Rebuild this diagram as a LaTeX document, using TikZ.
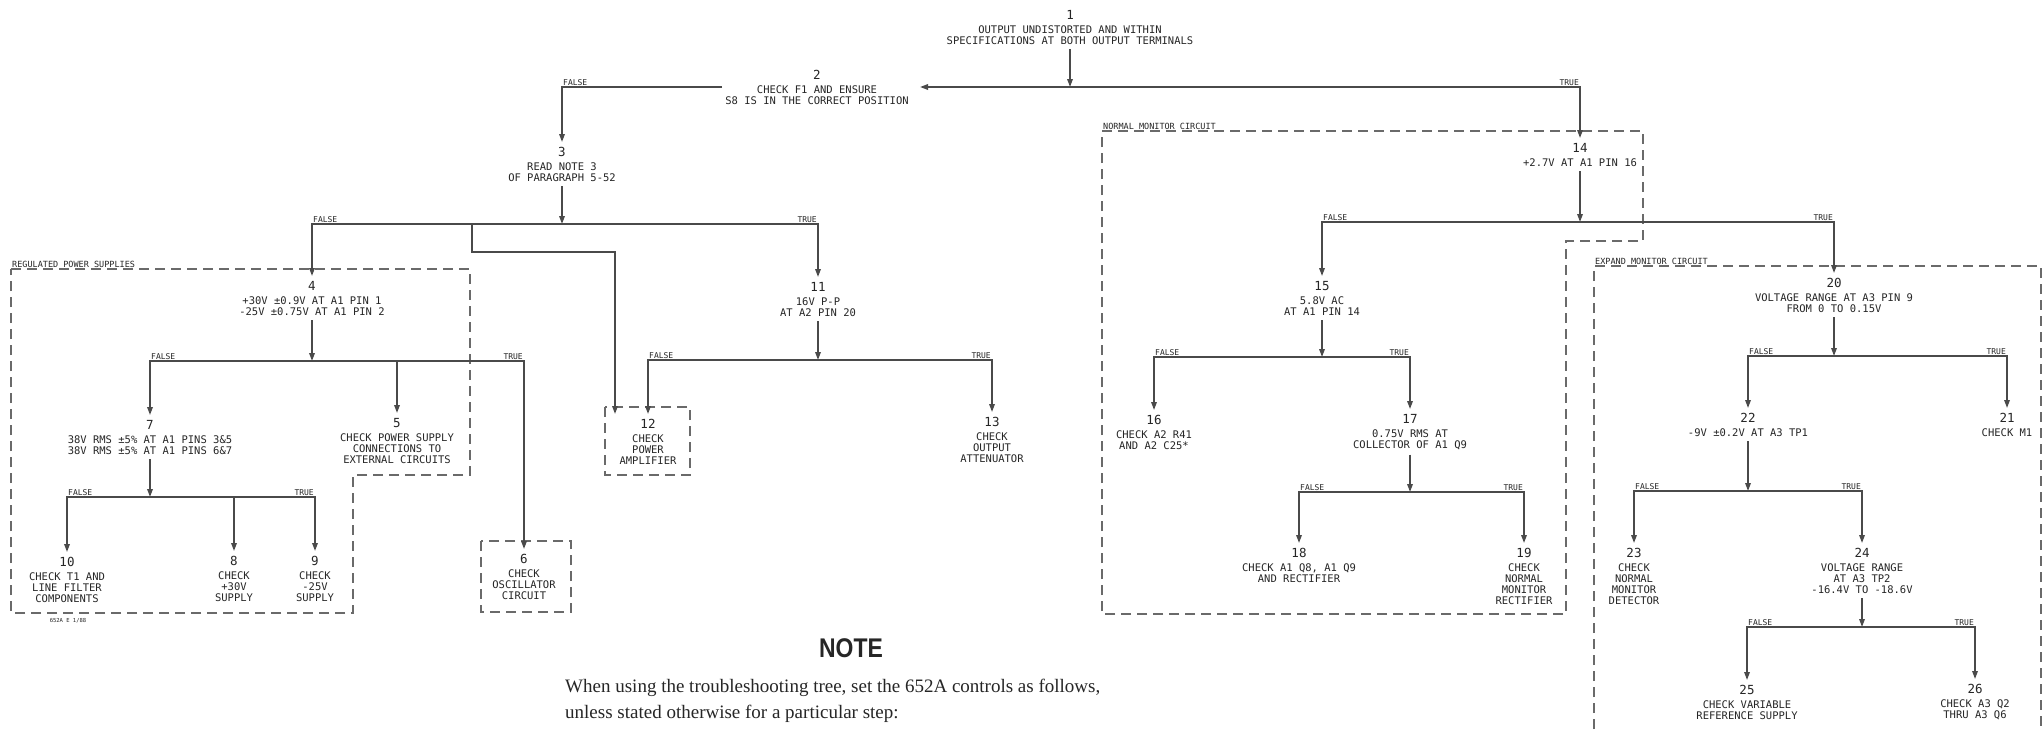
\documentclass[tikz,border=0pt]{standalone}
\usepackage{fontspec}
\setmainfont{Liberation Serif}
\setsansfont{Liberation Sans}
\setmonofont{DejaVu Sans Mono}
\newfontfamily\notefont[FakeStretch=0.85]{Liberation Sans}
\usetikzlibrary{arrows.meta,positioning}
\definecolor{ink}{HTML}{262626}
\definecolor{rule}{HTML}{4A4A4A}
\definecolor{boxline}{HTML}{6A6A6A}
\tikzset{
  flow/.style={draw=rule, line width=1.6pt, -{Triangle[length=8pt,width=5.5pt]}},
  stepbox/.style={anchor=north, align=center, inner sep=1pt, outer sep=4pt, text=ink,
    font=\ttfamily\fontsize{10.5}{11}\selectfont},
  tf/.style={inner sep=1pt, text=ink, font=\ttfamily\fontsize{8}{8}\selectfont},
  area/.style={draw=boxline, line width=1.1pt, dash pattern=on 10pt off 6pt},
  arealabel/.style={anchor=south west, inner sep=1pt, text=ink, font=\ttfamily\fontsize{8.5}{9}\selectfont},
}
\newcommand\stepno[1]{{\fontsize{12.5}{12.5}\selectfont #1}\\[3pt]}
\begin{document}
\begin{tikzpicture}[x=1pt, y=-1pt]
  \useasboundingbox (0,0) rectangle (2044,731);
  \fill[white] (0,0) rectangle (2044,731);

  % dashed groups
  \draw[area] (11,269) -- (470,269) -- (470,475) -- (353,475) -- (353,613) -- (11,613) -- cycle;
  \node[arealabel] (regarea) at (11,269) {REGULATED POWER SUPPLIES};
  \node[text=ink, font=\ttfamily\fontsize{5.5}{6}\selectfont] (drawno) at (68,621) {652A E 1/88};
  \draw[area] (605,407) rectangle (690,475);
  \draw[area] (481,541) rectangle (571,612);
  \draw[area] (1102,131) -- (1643,131) -- (1643,241) -- (1566,241) -- (1566,614) -- (1102,614) -- cycle;
  \node[arealabel] (normarea) at (1102,131) {NORMAL MONITOR CIRCUIT};
  \draw[area] (1594,745) -- (1594,266) -- (2041,266) -- (2041,745);
  \node[arealabel] (exparea) at (1594,266) {EXPAND MONITOR CIRCUIT};

  % steps
  \node[stepbox] (s1) at (1070,5) {\stepno{1}OUTPUT UNDISTORTED AND WITHIN\\SPECIFICATIONS AT BOTH OUTPUT TERMINALS};
  \node[stepbox] (s2) at (817,65) {\stepno{2}CHECK F1 AND ENSURE\\S8 IS IN THE CORRECT POSITION};
  \node[stepbox] (s3) at (562,142) {\stepno{3}READ NOTE 3\\OF PARAGRAPH 5-52};
  \node[stepbox] (s4) at (312,276) {\stepno{4}+30V ±0.9V AT A1 PIN 1\\-25V ±0.75V AT A1 PIN 2};
  \node[stepbox] (s5) at (397,413) {\stepno{5}CHECK POWER SUPPLY\\CONNECTIONS TO\\EXTERNAL CIRCUITS};
  \node[stepbox] (s6) at (524,549) {\stepno{6}CHECK\\OSCILLATOR\\CIRCUIT};
  \node[stepbox] (s7) at (150,415) {\stepno{7}38V RMS ±5\% AT A1 PINS 3\&5\\38V RMS ±5\% AT A1 PINS 6\&7};
  \node[stepbox] (s8) at (234,551) {\stepno{8}CHECK\\+30V\\SUPPLY};
  \node[stepbox] (s9) at (315,551) {\stepno{9}CHECK\\-25V\\SUPPLY};
  \node[stepbox] (s10) at (67,552) {\stepno{10}CHECK T1 AND\\LINE FILTER\\COMPONENTS};
  \node[stepbox] (s11) at (818,277) {\stepno{11}16V P-P\\AT A2 PIN 20};
  \node[stepbox] (s12) at (648,414) {\stepno{12}CHECK\\POWER\\AMPLIFIER};
  \node[stepbox] (s13) at (992,412) {\stepno{13}CHECK\\OUTPUT\\ATTENUATOR};
  \node[stepbox] (s14) at (1580,138) {\stepno{14}+2.7V AT A1 PIN 16};
  \node[stepbox] (s15) at (1322,276) {\stepno{15}5.8V AC\\AT A1 PIN 14};
  \node[stepbox] (s16) at (1154,410) {\stepno{16}CHECK A2 R41\\AND A2 C25*};
  \node[stepbox] (s17) at (1410,409) {\stepno{17}0.75V RMS AT\\COLLECTOR OF A1 Q9};
  \node[stepbox] (s18) at (1299,543) {\stepno{18}CHECK A1 Q8, A1 Q9\\AND RECTIFIER};
  \node[stepbox] (s19) at (1524,543) {\stepno{19}CHECK\\NORMAL\\MONITOR\\RECTIFIER};
  \node[stepbox] (s20) at (1834,273) {\stepno{20}VOLTAGE RANGE AT A3 PIN 9\\FROM 0 TO 0.15V};
  \node[stepbox] (s21) at (2007,408) {\stepno{21}CHECK M1};
  \node[stepbox] (s22) at (1748,408) {\stepno{22}-9V ±0.2V AT A3 TP1};
  \node[stepbox] (s23) at (1634,543) {\stepno{23}CHECK\\NORMAL\\MONITOR\\DETECTOR};
  \node[stepbox] (s24) at (1862,543) {\stepno{24}VOLTAGE RANGE\\AT A3 TP2\\-16.4V TO -18.6V};
  \node[stepbox] (s25) at (1747,680) {\stepno{25}CHECK VARIABLE\\REFERENCE SUPPLY};
  \node[stepbox] (s26) at (1975,679) {\stepno{26}CHECK A3 Q2\\THRU A3 Q6};

  % step 1
  \coordinate (j1) at (1070,87);
  \coordinate (t1) at (1580,87);
  \coordinate (e2) at (920,87);
  \draw[flow] (s1) -- (j1);
  \draw[flow] (j1) -- (e2);
  \draw[flow] (j1) -- (t1) -- (s14);
  \node[tf, above left=0pt] (l1t) at (t1) {TRUE};

  % step 2
  \coordinate (w2) at (722,87);
  \coordinate (f2) at (562,87);
  \draw[flow] (w2) -- (f2) -- (s3);
  \node[tf, above right=0pt] (l2f) at (f2) {FALSE};

  % step 3
  \coordinate (j3) at (562,224);
  \coordinate (f3) at (312,224);
  \coordinate (t3) at (818,224);
  \coordinate (k3) at (472,224);
  \coordinate (k12) at (615,252);
  \draw[flow] (s3) -- (j3);
  \draw[flow] (j3) -- (f3) -- (s4);
  \draw[flow] (j3) -- (t3) -- (s11);
  \draw[flow] (k3) |- (k12) -- (k12 |- s12.north);
  \node[tf, above right=0pt] (l3f) at (f3) {FALSE};
  \node[tf, above left=0pt] (l3t) at (t3) {TRUE};

  % step 4
  \coordinate (j4) at (312,361);
  \coordinate (f4) at (150,361);
  \coordinate (m4) at (397,361);
  \coordinate (t4) at (524,361);
  \draw[flow] (s4) -- (j4);
  \draw[flow] (j4) -- (f4) -- (s7);
  \draw[flow] (m4) -- (s5);
  \draw[flow] (j4) -- (t4) -- (s6);
  \node[tf, above right=0pt] (l4f) at (f4) {FALSE};
  \node[tf, above left=0pt] (l4t) at (t4) {TRUE};

  % step 7
  \coordinate (j7) at (150,497);
  \coordinate (f7) at (67,497);
  \coordinate (m7) at (234,497);
  \coordinate (t7) at (315,497);
  \draw[flow] (s7) -- (j7);
  \draw[flow] (j7) -- (f7) -- (s10);
  \draw[flow] (m7) -- (s8);
  \draw[flow] (j7) -- (t7) -- (s9);
  \node[tf, above right=0pt] (l7f) at (f7) {FALSE};
  \node[tf, above left=0pt] (l7t) at (t7) {TRUE};

  % step 11
  \coordinate (j11) at (818,360);
  \coordinate (f11) at (648,360);
  \coordinate (t11) at (992,360);
  \draw[flow] (s11) -- (j11);
  \draw[flow] (j11) -- (f11) -- (s12);
  \draw[flow] (j11) -- (t11) -- (s13);
  \node[tf, above right=0pt] (l11f) at (f11) {FALSE};
  \node[tf, above left=0pt] (l11t) at (t11) {TRUE};

  % step 14
  \coordinate (j14) at (1580,222);
  \coordinate (f14) at (1322,222);
  \coordinate (t14) at (1834,222);
  \draw[flow] (s14) -- (j14);
  \draw[flow] (j14) -- (f14) -- (s15);
  \draw[flow] (j14) -- (t14) -- (s20);
  \node[tf, above right=0pt] (l14f) at (f14) {FALSE};
  \node[tf, above left=0pt] (l14t) at (t14) {TRUE};

  % step 15
  \coordinate (j15) at (1322,357);
  \coordinate (f15) at (1154,357);
  \coordinate (t15) at (1410,357);
  \draw[flow] (s15) -- (j15);
  \draw[flow] (j15) -- (f15) -- (s16);
  \draw[flow] (j15) -- (t15) -- (s17);
  \node[tf, above right=0pt] (l15f) at (f15) {FALSE};
  \node[tf, above left=0pt] (l15t) at (t15) {TRUE};

  % step 17
  \coordinate (j17) at (1410,492);
  \coordinate (f17) at (1299,492);
  \coordinate (t17) at (1524,492);
  \draw[flow] (s17) -- (j17);
  \draw[flow] (j17) -- (f17) -- (s18);
  \draw[flow] (j17) -- (t17) -- (s19);
  \node[tf, above right=0pt] (l17f) at (f17) {FALSE};
  \node[tf, above left=0pt] (l17t) at (t17) {TRUE};

  % step 20
  \coordinate (j20) at (1834,356);
  \coordinate (f20) at (1748,356);
  \coordinate (t20) at (2007,356);
  \draw[flow] (s20) -- (j20);
  \draw[flow] (j20) -- (f20) -- (s22);
  \draw[flow] (j20) -- (t20) -- (s21);
  \node[tf, above right=0pt] (l20f) at (f20) {FALSE};
  \node[tf, above left=0pt] (l20t) at (t20) {TRUE};

  % step 22
  \coordinate (j22) at (1748,491);
  \coordinate (f22) at (1634,491);
  \coordinate (t22) at (1862,491);
  \draw[flow] (s22) -- (j22);
  \draw[flow] (j22) -- (f22) -- (s23);
  \draw[flow] (j22) -- (t22) -- (s24);
  \node[tf, above right=0pt] (l22f) at (f22) {FALSE};
  \node[tf, above left=0pt] (l22t) at (t22) {TRUE};

  % step 24
  \coordinate (j24) at (1862,627);
  \coordinate (f24) at (1747,627);
  \coordinate (t24) at (1975,627);
  \draw[flow] (s24) -- (j24);
  \draw[flow] (j24) -- (f24) -- (s25);
  \draw[flow] (j24) -- (t24) -- (s26);
  \node[tf, above right=0pt] (l24f) at (f24) {FALSE};
  \node[tf, above left=0pt] (l24t) at (t24) {TRUE};

  % note
  \node[text=ink, font=\notefont\bfseries\fontsize{27}{27}\selectfont] (notehead) at (851,648) {NOTE};
  \node[anchor=north west, align=left, inner sep=1pt, text=ink,
    font=\rmfamily\fontsize{19}{26}\selectfont] (notetext) at (564,678)
    {When using the troubleshooting tree, set the 652A controls as follows,\\unless stated otherwise for a particular step:};
\end{tikzpicture}
\end{document}
